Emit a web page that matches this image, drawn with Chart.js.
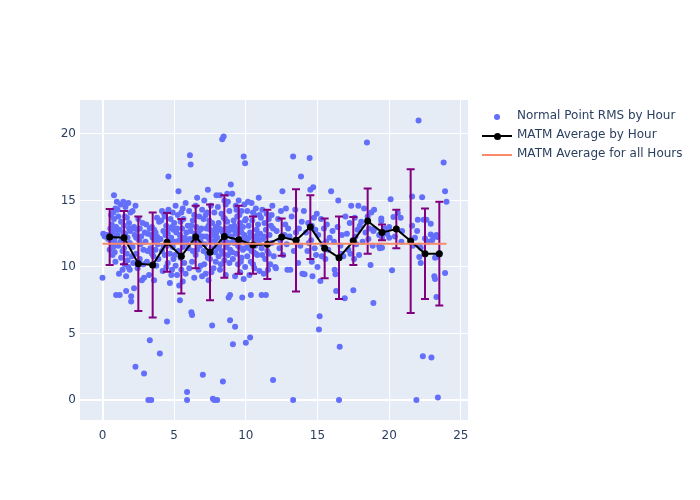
<!DOCTYPE html>
<html>
<head>
<meta charset="utf-8">
<script src="https://cdn.jsdelivr.net/npm/chart.js@4"></script>
<style>
  body { margin: 0; background: #fff; }
  #wrap { position: relative; width: 700px; height: 500px; }
  .leg { position: absolute; left: 480px; height: 18px; line-height: 18px;
         font: 12px "DejaVu Sans", sans-serif; color: #2a3f5f; white-space: nowrap; }
  .leg .sym { position: absolute; left: 2px; top: 0; width: 30px; height: 18px; }
  .leg .txt { position: absolute; left: 37px; top: 0; }
  .dot { position: absolute; width: 6px; height: 6px; border-radius: 50%; left: 12px; top: 6px; }
  .bar { position: absolute; left: 0; width: 30px; top: 8px; height: 2px; }
  .bigdot { position: absolute; width: 7px; height: 7px; border-radius: 50%; left: 11.5px; top: 5.5px; background: #000; }
</style>
</head>
<body>
<div id="wrap">
  <canvas id="myChart" width="700" height="500"></canvas>
  <div class="leg" style="top:108px"><span class="sym"><span class="dot" style="background:#636efa"></span></span><span class="txt">Normal Point RMS by Hour</span></div>
  <div class="leg" style="top:127px"><span class="sym"><span class="bar" style="background:#000"></span><span class="bigdot"></span></span><span class="txt">MATM Average by Hour</span></div>
  <div class="leg" style="top:146px"><span class="sym"><span class="bar" style="background:#fa8a68"></span></span><span class="txt">MATM Average for all Hours</span></div>
</div>
<script>
// Normal point RMS values, [hour, rms]
const rmsPoints = [
  [0.0,9.2],[0.05,12.5],[0.15,12.3],[0.3,12.4],[0.4,12.1],[0.5,11.3],[0.55,12.9],[0.6,11.8],[0.65,13.2],[0.7,12.6],[0.7,10.9],[0.75,14.1],[0.8,15.4],[0.8,13.6],[0.85,12.2],[0.85,11.1],[0.9,14.4],[0.9,10.4],[0.95,13.0],[0.95,7.9],[0.8,12.0],
  [0.6,13.9],[0.75,11.5],[0.9,12.8],[0.95,11.7],
  [1.0,14.9],[1.05,14.3],[1.1,13.8],[1.1,11.6],[1.15,9.5],[1.2,7.9],[1.2,12.8],[1.25,14.7],[1.3,13.4],[1.3,10.7],[1.35,12.0],[1.4,9.8],[1.45,14.9],[1.5,13.1],[1.5,11.4],[1.55,10.2],[1.6,14.5],[1.6,12.5],[1.65,9.3],[1.7,13.7],[1.7,11.0],[1.75,12.2],[1.8,14.8],[1.8,10.0],[1.85,13.3],[1.9,11.8],[1.9,9.8],[1.95,12.7],[1.95,14.1],[1.4,11.2],[1.65,8.2],
  [1.05,12.4],[1.25,11.9],[1.45,12.6],[1.55,13.8],[1.75,10.5],[1.85,12.9],
  [2.0,7.8],[2.0,7.4],[2.05,12.9],[2.1,11.5],[2.1,14.2],[2.15,10.3],[2.2,13.0],[2.25,12.4],[2.3,2.5],[2.3,14.6],[2.35,11.0],[2.4,12.8],[2.45,9.9],[2.5,13.6],[2.55,12.0],[2.6,10.6],[2.65,11.7],[2.7,12.3],[2.75,9.0],[2.8,13.3],[2.85,11.3],[2.9,2.0],[2.9,9.2],[2.95,12.6],[2.2,8.4],
  [2.05,10.8],[2.35,12.2],[2.6,12.9],[2.85,10.2],
  [3.0,11.9],[3.05,13.2],[3.1,10.4],[3.15,12.5],[3.2,0.0],[3.25,9.4],[3.3,4.5],[3.3,12.9],[3.35,11.4],[3.4,0.0],[3.45,13.0],[3.5,12.2],[3.55,10.8],[3.6,9.0],[3.65,11.9],[3.7,12.6],[3.75,10.1],[3.8,12.3],[3.85,11.7],[3.9,10.6],[3.95,13.4],[4.0,3.5],[3.6,12.8],[3.8,13.7],[3.45,11.0],
  [3.15,11.2],[3.4,12.4],[3.7,11.3],[3.9,12.1],
  [4.05,12.1],[4.1,13.5],[4.15,11.2],[4.2,9.7],[4.25,12.7],[4.3,14.0],[4.35,10.9],[4.4,12.4],[4.45,13.1],[4.5,5.9],[4.5,11.6],[4.55,10.3],[4.6,16.8],[4.6,14.3],[4.65,12.9],[4.7,11.0],[4.7,8.8],[4.75,13.6],[4.8,12.2],[4.85,9.8],[4.9,14.1],[4.9,11.5],[4.95,10.6],[4.35,13.8],[4.55,12.5],[4.8,9.4],[4.15,14.2],[4.45,10.0],[4.75,11.9],[4.95,12.8],
  [4.25,11.6],[4.6,12.0],[4.85,13.0],
  [5.0,13.3],[5.05,11.9],[5.1,10.1],[5.1,14.6],[5.15,12.6],[5.2,9.4],[5.25,13.9],[5.3,15.7],[5.3,11.2],[5.35,8.6],[5.4,7.5],[5.4,12.4],[5.45,10.7],[5.5,14.1],[5.5,9.8],[5.55,12.9],[5.6,11.5],[5.65,13.6],[5.7,10.3],[5.75,12.2],[5.8,14.8],[5.8,9.5],[5.85,11.8],[5.9,0.0],[5.9,0.6],[5.95,13.1],[5.6,8.9],[5.2,12.9],[5.7,11.9],[5.45,13.4],
  [5.05,10.9],[5.35,12.0],[5.85,12.6],[5.6,14.4],
  [6.0,11.4],[6.05,14.2],[6.1,18.4],[6.15,17.7],[6.15,12.7],[6.2,6.6],[6.25,6.4],[6.25,10.4],[6.3,13.5],[6.35,11.9],[6.4,9.2],[6.45,12.5],[6.5,14.6],[6.5,10.9],[6.55,13.0],[6.6,11.3],[6.65,12.2],[6.7,9.8],[6.75,13.8],[6.8,11.6],[6.85,10.1],[6.9,12.9],[6.95,14.3],[6.95,9.3],[6.4,13.9],[6.6,15.2],[6.7,12.5],[6.85,11.9],[6.3,11.2],[6.05,9.9],
  [6.1,12.1],[6.55,11.8],[6.8,12.8],[6.2,13.1],
  [7.0,12.3],[7.0,1.9],[7.05,13.6],[7.1,10.2],[7.1,15.0],[7.15,11.7],[7.2,9.5],[7.25,12.9],[7.3,14.1],[7.3,11.0],[7.35,15.8],[7.4,13.1],[7.4,9.0],[7.45,12.1],[7.5,10.6],[7.55,14.6],[7.6,11.4],[7.65,5.6],[7.65,13.3],[7.7,12.4],[7.7,0.1],[7.75,9.9],[7.8,14.1],[7.8,0.0],[7.85,11.1],[7.9,13.0],[7.9,10.4],[7.95,15.4],[7.95,12.6],[7.2,13.9],[7.5,12.8],[7.6,9.6],[7.85,12.0],[7.35,10.7],[7.55,11.9],
  [7.05,11.2],[7.25,12.3],[7.45,13.5],[7.75,12.7],[7.95,11.6],
  [8.0,12.2],[8.0,0.0],[8.05,14.5],[8.1,10.8],[8.1,13.3],[8.15,11.6],[8.2,15.4],[8.2,9.8],[8.25,12.8],[8.3,14.0],[8.3,11.2],[8.35,19.6],[8.4,1.4],[8.4,12.6],[8.45,19.8],[8.45,13.7],[8.5,10.5],[8.5,15.0],[8.55,12.0],[8.6,14.7],[8.6,9.4],[8.65,11.5],[8.7,13.4],[8.7,15.5],[8.75,10.9],[8.8,12.7],[8.8,7.7],[8.85,14.2],[8.9,7.9],[8.9,11.3],[8.95,16.2],[8.95,13.0],[8.25,10.2],[8.55,13.6],[8.65,12.4],[8.85,10.3],[8.15,12.9],[8.35,11.9],[8.75,14.9],[8.9,6.0],
  [8.05,11.4],[8.4,11.0],[8.6,12.9],[8.8,11.8],
  [9.0,12.3],[9.05,15.5],[9.1,10.6],[9.1,4.2],[9.15,13.5],[9.2,11.8],[9.25,5.5],[9.25,9.3],[9.3,14.6],[9.3,12.5],[9.35,11.0],[9.4,13.8],[9.45,10.2],[9.5,12.9],[9.5,15.0],[9.55,11.5],[9.6,9.6],[9.6,13.3],[9.65,12.1],[9.7,14.2],[9.7,10.7],[9.75,7.7],[9.8,13.0],[9.8,11.3],[9.85,18.3],[9.9,14.7],[9.9,12.4],[9.95,17.8],[9.95,10.0],[10.0,4.3],[9.15,12.0],[9.4,12.7],[9.55,13.9],[9.75,12.0],[9.85,9.1],[9.05,11.1],[9.35,14.3],[9.65,10.4],[9.95,13.5],[9.2,13.1],
  [9.1,12.8],[9.45,11.6],[9.7,12.6],[9.9,11.4],
  [10.0,13.6],[10.05,12.0],[10.1,14.2],[10.1,10.8],[10.15,11.7],[10.2,13.1],[10.25,9.4],[10.3,4.7],[10.3,12.6],[10.35,7.9],[10.4,14.8],[10.4,11.2],[10.45,13.5],[10.5,10.2],[10.55,12.3],[10.6,13.9],[10.6,9.9],[10.65,11.6],[10.7,14.4],[10.75,12.8],[10.8,10.9],[10.85,13.2],[10.9,15.2],[10.9,11.8],[10.95,9.7],[11.0,12.5],[10.5,14.1],[10.7,11.0],[10.2,12.2],[10.8,12.4],[10.35,10.4],[10.95,13.9],[10.15,14.9],[10.6,12.0],[11.1,7.9],
  [10.25,11.4],[10.55,11.1],[10.85,12.1],
  [11.05,13.7],[11.1,11.4],[11.15,14.3],[11.2,12.1],[11.25,9.5],[11.3,13.3],[11.35,10.6],[11.4,12.8],[11.45,14.0],[11.5,11.2],[11.55,9.8],[11.6,13.6],[11.65,12.4],[11.7,10.2],[11.75,13.1],[11.8,11.8],[11.85,14.6],[11.9,1.5],[11.9,12.9],[11.95,10.8],[11.4,7.9],[11.6,11.0],[11.3,12.3],[11.8,13.9],[11.15,10.9],
  [12.05,10.0],[12.1,9.9],[12.15,12.7],[12.25,13.6],[12.35,11.4],[12.45,14.2],[12.55,15.7],[12.6,10.9],[12.7,12.4],[12.75,13.2],[12.85,11.7],[12.9,9.8],[12.95,12.9],[12.4,12.0],[12.8,14.4],
  [13.05,12.3],[13.1,9.8],[13.2,13.8],[13.3,18.3],[13.3,0.0],[13.35,11.2],[13.45,14.3],[13.55,12.0],[13.65,10.3],[13.7,12.9],[13.8,11.6],[13.85,16.8],[13.9,13.4],[13.95,9.5],[13.5,12.6],
  [14.05,14.2],[14.1,9.45],[14.2,12.6],[14.3,11.2],[14.35,13.3],[14.45,18.2],[14.5,15.8],[14.55,12.0],[14.6,10.4],[14.65,9.3],[14.7,16.0],[14.75,13.7],[14.8,11.4],[14.85,12.8],[14.9,10.9],[14.95,14.0],[14.4,11.8],[14.6,13.1],
  [15.0,10.0],[15.05,12.4],[15.1,5.3],[15.15,6.3],[15.2,8.95],[15.25,13.6],[15.35,11.7],[15.45,12.9],[15.55,10.6],[15.65,13.2],[15.75,11.3],[15.85,12.2],[15.95,15.7],[15.6,11.9],[15.3,10.8],
  [16.05,12.7],[16.2,9.8],[16.25,9.45],[16.3,8.2],[16.4,13.0],[16.5,0.0],[16.55,4.0],[16.6,11.6],[16.7,12.4],[16.8,10.8],[16.9,7.65],[16.95,13.8],[16.45,15.0],[16.65,11.0],[16.15,11.9],
  [17.05,12.5],[17.15,11.3],[17.25,13.3],[17.35,14.6],[17.45,12.0],[17.5,8.25],[17.55,10.6],[17.6,13.7],[17.7,11.7],[17.8,12.8],[17.85,14.6],[17.9,10.9],[17.95,13.1],[17.3,11.0],[17.65,12.3],
  [18.05,13.4],[18.15,11.9],[18.25,14.4],[18.35,12.6],[18.45,19.35],[18.5,13.8],[18.55,12.1],[18.6,12.9],[18.7,10.15],[18.75,14.1],[18.85,11.6],[18.9,7.3],[18.9,12.7],[18.95,14.3],[18.95,12.85],
  [19.3,12.4],[19.3,11.6],[19.35,11.4],[19.45,13.65],[19.45,13.45],[19.5,12.2],[19.5,11.45],[19.7,12.9],[19.85,12.5],[20.0,13.0],[20.0,12.2],
  [20.1,15.1],[20.2,9.75],[20.3,13.75],[20.6,14.05],[20.8,13.7],[20.85,11.9],[20.9,12.7],[20.4,12.3],
  [21.6,13.1],[21.65,11.6],[21.6,15.3],[21.9,0.0],[21.95,12.7],[22.0,13.55],[22.05,21.0],[22.1,11.6],[22.1,10.75],[21.8,12.2],
  [22.2,10.3],[22.2,11.45],[22.3,15.25],[22.35,3.3],[22.4,13.55],[22.5,12.15],[22.6,13.55],[22.7,11.9],[22.9,13.25],[22.9,12.45],[22.95,3.2],
  [23.0,12.0],[23.1,12.3],[23.15,9.3],[23.2,10.7],[23.2,9.1],[23.3,10.75],[23.3,12.4],[23.3,7.75],[23.35,12.25],[23.4,0.2],[23.8,17.85],[23.9,15.7],[23.9,9.55],[24.0,14.9]
];

// hourly averages (plotted at the middle of each hour) and their spread
const hourCenters = [0.5,1.5,2.5,3.5,4.5,5.5,6.5,7.5,8.5,9.5,10.5,11.5,12.5,13.5,14.5,15.5,16.5,17.5,18.5,19.5,20.5,21.5,22.5,23.5];
const hourMeans = [12.25,12.2,10.25,10.15,11.85,10.8,12.25,11.1,12.3,12.05,11.65,11.7,12.25,12.0,13.0,11.4,10.7,11.95,13.45,12.6,12.85,11.95,11.0,11.0];
const hourErrors = [2.1,2.0,3.55,3.95,2.2,2.8,2.35,3.6,3.1,2.55,2.15,2.6,1.4,3.85,2.4,2.25,3.1,1.8,2.45,0.6,1.45,5.4,3.4,3.9];

// overall average, spanning hours 0 to 24
const overallRange = [0, 24];
const overallMean = 11.75;

const xTicks = [0, 5, 10, 15, 20, 25];
const yTicks = [0, 5, 10, 15, 20];

// plot background like plotly
const bgPlugin = {
    id: 'plotBg',
    beforeDraw(chart) {
        const a = chart.chartArea;
        const c = chart.ctx;
        c.save();
        c.fillStyle = '#e5ecf6';
        c.fillRect(a.left, a.top, a.right - a.left, a.bottom - a.top);
        c.restore();
    }
};

// vertical error bars under the hourly average line
const errorBarPlugin = {
    id: 'errorBars',
    beforeDatasetDraw(chart, args) {
        if (args.index !== 1) return;
        const c = chart.ctx;
        const xs = chart.scales.x, ys = chart.scales.y;
        c.save();
        c.strokeStyle = '#800080';
        c.lineWidth = 2;
        hourCenters.forEach(function (h, i) {
            const px = xs.getPixelForValue(h);
            const top = ys.getPixelForValue(hourMeans[i] + hourErrors[i]);
            const bot = ys.getPixelForValue(hourMeans[i] - hourErrors[i]);
            c.beginPath();
            c.moveTo(px, top); c.lineTo(px, bot);
            c.moveTo(px - 4, top); c.lineTo(px + 4, top);
            c.moveTo(px - 4, bot); c.lineTo(px + 4, bot);
            c.stroke();
        });
        c.restore();
    }
};

const gridColor = ctx => '#ffffff';
const gridWidth = ctx => (ctx.tick && ctx.tick.value === 0 ? 2 : 1);

const ctx = document.getElementById('myChart').getContext('2d');
new Chart(ctx, {
    type: 'scatter',
    data: {
        datasets: [{
            label: 'Normal Point RMS by Hour',
            data: rmsPoints.map(p => ({ x: p[0], y: p[1] })),
            backgroundColor: '#636efa',
            borderWidth: 0,
            pointRadius: 3,
            order: 3
        }, {
            label: 'MATM Average by Hour',
            type: 'line',
            data: hourCenters.map((h, i) => ({ x: h, y: hourMeans[i] })),
            borderColor: '#000000',
            backgroundColor: '#000000',
            borderWidth: 2,
            pointRadius: 3.5,
            pointBorderWidth: 0,
            showLine: true,
            order: 2
        }, {
            label: 'MATM Average for all Hours',
            type: 'line',
            data: overallRange.map(h => ({ x: h, y: overallMean })),
            borderColor: '#fa8a68',
            borderWidth: 2,
            pointRadius: 0,
            showLine: true,
            order: 1
        }]
    },
    options: {
        responsive: false,
        animation: false,
        layout: { padding: { left: 0, top: 100, right: 232, bottom: 0 } },
        plugins: {
            legend: { display: false },
            tooltip: { enabled: false }
        },
        scales: {
            x: {
                type: 'linear',
                min: -1.57,
                max: 25.5,
                afterBuildTicks: s => { s.ticks = xTicks.map(v => ({ value: v })); },
                afterFit: s => { s.height = 80; },
                border: { display: false },
                grid: { color: gridColor, lineWidth: gridWidth, drawTicks: false },
                ticks: { padding: 9, color: '#2a3f5f', font: { family: 'DejaVu Sans', size: 12 } }
            },
            y: {
                type: 'linear',
                min: -1.5,
                max: 22.55,
                afterBuildTicks: s => { s.ticks = yTicks.map(v => ({ value: v })); },
                afterFit: s => { s.width = 80; },
                border: { display: false },
                grid: { color: gridColor, lineWidth: gridWidth, drawTicks: false },
                ticks: { padding: 4, color: '#2a3f5f', font: { family: 'DejaVu Sans', size: 12 } }
            }
        }
    },
    plugins: [bgPlugin, errorBarPlugin]
});
</script>
</body>
</html>
